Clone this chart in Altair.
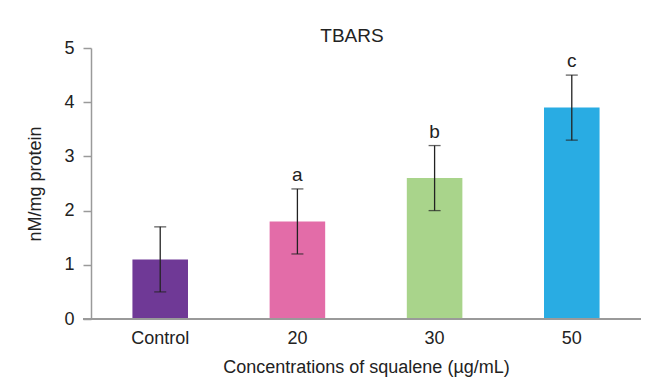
import altair as alt
import pandas as pd

groups = ["Control", "20", "30", "50"]
means = [1.1, 1.8, 2.6, 3.9]
errors = [0.6, 0.6, 0.6, 0.6]
letters = ["", "a", "b", "c"]
colors = ["#6f3996", "#e36ca8", "#a9d48b", "#29ace3"]
chart_title = ["TBARS"]

df = pd.DataFrame({
    "group": groups,
    "mean": means,
    "err": errors,
    "letter": letters,
})
df["lo"] = df["mean"] - df["err"]
df["hi"] = df["mean"] + df["err"]

FONT = "Liberation Sans"
W, H = 550, 271

xs = alt.X("group:N", sort=groups,
           scale=alt.Scale(paddingInner=0.595, paddingOuter=0.302),
           axis=alt.Axis(title="Concentrations of squalene (µg/mL)", labelAngle=0,
                         domain=False, ticks=False, labelPadding=10,
                         labelFontSize=18, titleFontSize=18, titlePadding=11,
                         labelColor="#222222", titleColor="#222222",
                         labelFont=FONT, titleFont=FONT, titleFontWeight="normal"))
ys = alt.Y("mean:Q", scale=alt.Scale(domain=[0, 5], nice=False),
           axis=alt.Axis(title="nM/mg protein", values=[0, 1, 2, 3, 4, 5], grid=False,
                         domainColor="#9a9a9a", tickColor="#9a9a9a", domainWidth=1.5,
                         tickWidth=1.5, tickSize=8, labelPadding=9,
                         labelFontSize=18, titleFontSize=18, titlePadding=19,
                         labelColor="#222222", titleColor="#222222",
                         labelFont=FONT, titleFont=FONT, titleFontWeight="normal"))

base = alt.Chart(df)

bars = base.mark_bar().encode(
    x=xs, y=ys,
    color=alt.Color("group:N", sort=groups,
                    scale=alt.Scale(domain=groups, range=colors), legend=None),
)

baseline = base.mark_rule(color="#9a9a9a", strokeWidth=1.5).encode(
    x=alt.value(-8), x2=alt.value(W), y=alt.datum(0)
)

stems = base.mark_rule(color="#222222", strokeWidth=1.3).encode(
    x=alt.X("group:N", sort=groups), y="lo:Q", y2="hi:Q"
)
caps_hi = base.mark_tick(color="#222222", thickness=1.3, size=12, orient="horizontal").encode(
    x=alt.X("group:N", sort=groups), y="hi:Q"
)
caps_lo = base.mark_tick(color="#222222", thickness=1.3, size=12, orient="horizontal").encode(
    x=alt.X("group:N", sort=groups), y="lo:Q"
)
labels = base.mark_text(font=FONT, fontSize=19, color="#222222", baseline="bottom", dy=-4).encode(
    x=alt.X("group:N", sort=groups), y="hi:Q", text="letter:N"
)

title_df = pd.DataFrame({"t": chart_title})
title_mark = alt.Chart(title_df).mark_text(
    font=FONT, fontSize=19, color="#222222", align="center", baseline="alphabetic"
).encode(x=alt.value(W / 2 - 14), y=alt.value(-6), text="t:N")

chart = alt.layer(bars, baseline, stems, caps_hi, caps_lo, labels, title_mark).properties(
    width=W, height=H,
    padding={"left": 83, "top": 40, "right": 2, "bottom": 62},
    autosize=alt.AutoSizeParams(type="none"),
    background="white",
).configure_view(stroke=None)

chart.save("out.html", embed_options={"renderer": "svg", "actions": False})
